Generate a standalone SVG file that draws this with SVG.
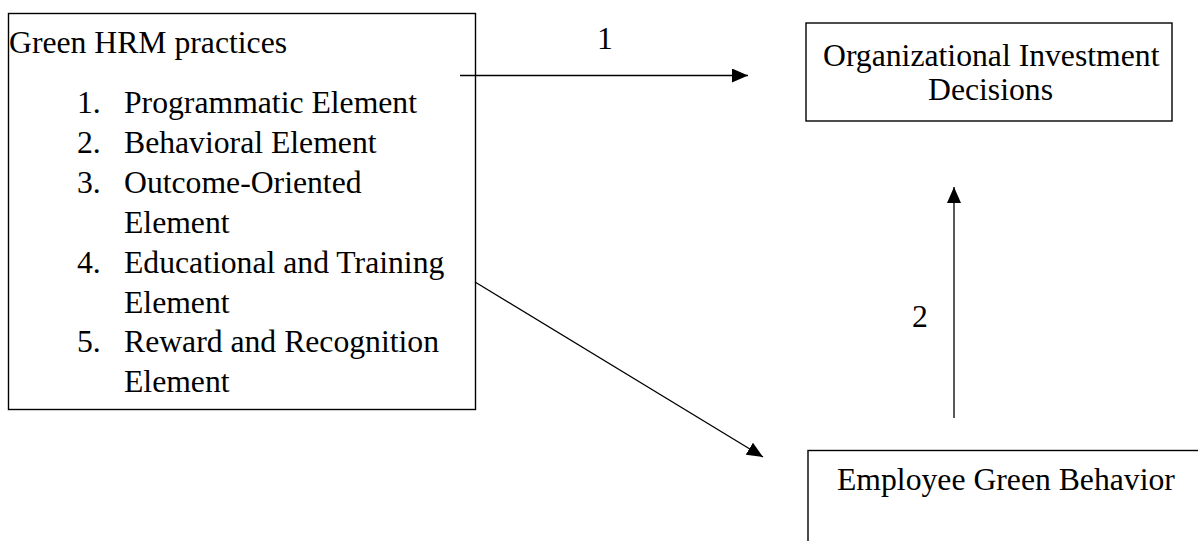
<svg xmlns="http://www.w3.org/2000/svg" width="1198" height="541" viewBox="0 0 1198 541">
<style>
.box{fill:#fff;stroke:#000;stroke-width:1.4}
.t{font-family:"Liberation Serif","Times New Roman",serif;font-size:31.7px;fill:#000}
.c{stroke:#000;stroke-width:1.3;fill:none}
</style>
<defs>
<marker id="ah" viewBox="0 0 16 14" refX="16" refY="7" markerWidth="16" markerHeight="14" markerUnits="userSpaceOnUse" orient="auto">
<path d="M0,0 L16,7 L0,14 Z" fill="#000"/>
</marker>
</defs>
<rect width="1198" height="541" fill="#fff"/>
<g id="green-hrm">
<rect class="box" x="8.5" y="13.5" width="467" height="396"/>
<text class="t" x="9" y="53">Green HRM practices</text>
<text class="t" x="77" y="113">1.</text><text class="t" x="124" y="113">Programmatic Element</text>
<text class="t" x="77" y="153">2.</text><text class="t" x="124" y="153">Behavioral Element</text>
<text class="t" x="77" y="193">3.</text><text class="t" x="124" y="193">Outcome-Oriented</text>
<text class="t" x="124" y="233">Element</text>
<text class="t" x="77" y="273">4.</text><text class="t" x="124" y="273">Educational and Training</text>
<text class="t" x="124" y="313">Element</text>
<text class="t" x="77" y="352">5.</text><text class="t" x="124" y="352">Reward and Recognition</text>
<text class="t" x="124" y="392">Element</text>
</g>
<g id="org-investment">
<rect class="box" x="806" y="23" width="366" height="98"/>
<text class="t" x="823" y="66">Organizational Investment</text>
<text class="t" x="928" y="100">Decisions</text>
</g>
<g id="employee-green">
<rect class="box" x="808" y="450.5" width="420" height="120"/>
<text class="t" x="837" y="490">Employee Green Behavior</text>
</g>
<g id="connectors">
<line class="c" x1="460" y1="75.5" x2="748" y2="75.5" marker-end="url(#ah)"/>
<line class="c" x1="475" y1="282" x2="763" y2="457" marker-end="url(#ah)"/>
<line class="c" x1="954" y1="418" x2="954" y2="187" marker-end="url(#ah)"/>
<text class="t" x="597" y="49">1</text>
<text class="t" x="912" y="327">2</text>
</g>
</svg>
